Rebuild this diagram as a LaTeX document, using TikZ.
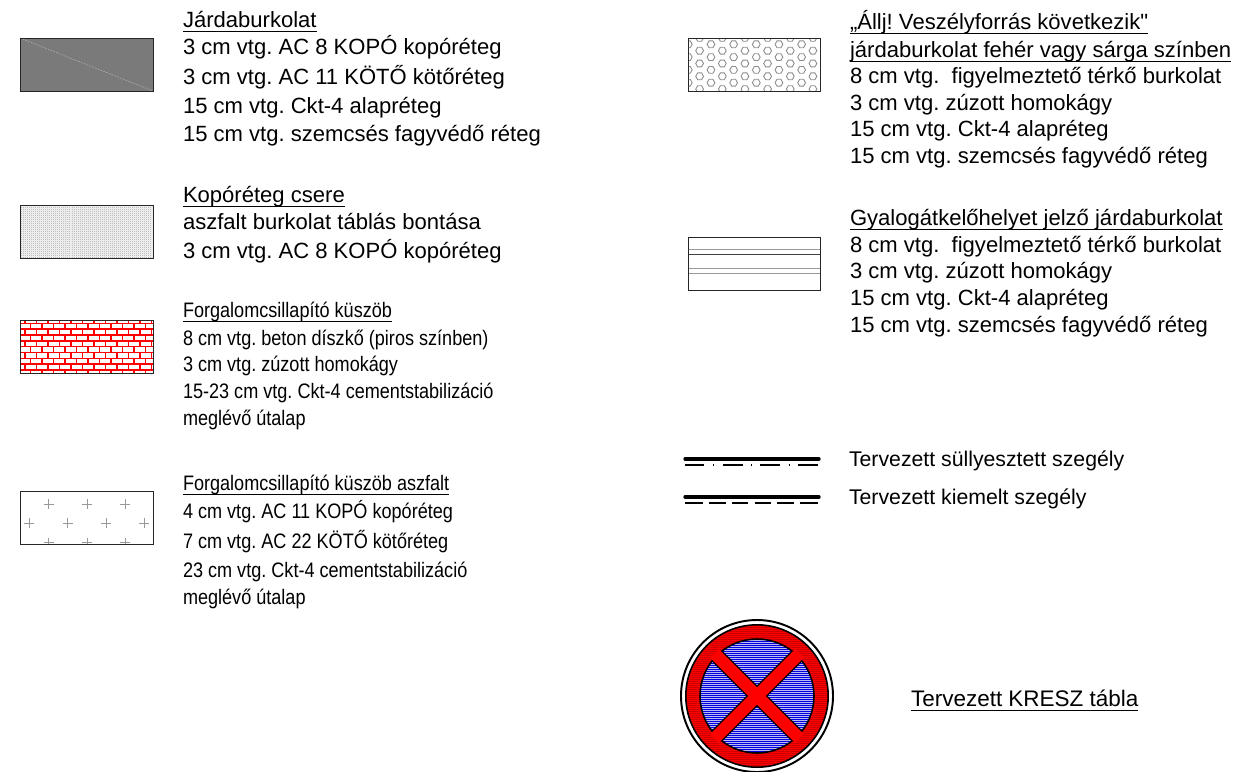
\documentclass[tikz,border=0pt]{standalone}
\usepackage{graphicx}
\usepackage{fontspec}
\setmainfont{Liberation Sans}
\newfontfamily\plainf{Liberation Sans}
\frenchspacing
\definecolor{brick}{RGB}{255,0,0}
\definecolor{signblue}{RGB}{0,0,225}
\definecolor{signbase}{RGB}{185,185,240}
\tikzset{
  x=0.02cm,y=-0.02cm,
  lab/.style={anchor=base west,inner sep=0pt,outer sep=0pt,font=\fontsize{12.55}{15}\selectfont\frenchspacing},
  ul/.style={line width=0.65pt,black},
  frame/.style={draw=black!85,line width=0.5pt},
  heavy/.style={line width=1.9pt,line cap=round,black},
  thinkerb/.style={black,line width=0.65pt},
}
\newcommand{\ulnode}[1]{\draw[ul] ([yshift=-0.085cm]#1.base west) -- ([yshift=-0.085cm]#1.base east);}
\newcommand{\nar}[1]{\scalebox{0.82}[0.95]{#1}}
\begin{document}
\begin{tikzpicture}
\useasboundingbox (0,0) rectangle (1240,771);
% --- Box 1 asphalt
\coordinate (b1a) at (20,38); \coordinate (b1b) at (153,91);
\fill[black!52] (b1a) rectangle (b1b);
\draw[black!32,dash pattern=on 1pt off 0.7pt,line width=0.35pt] (b1a) -- (b1b);
\draw[frame] (b1a) rectangle (b1b);
% --- Box 2 dotted
\coordinate (b2a) at (20,205); \coordinate (b2b) at (153,258);
\fill[black!7] (b2a) rectangle (b2b);
\foreach \y in {207,209,...,257}{
  \draw[black!25,dash pattern=on 0.55pt off 0.6pt,line width=0.3pt] (21,\y) -- (152,\y);
}
\draw[frame] (b2a) rectangle (b2b);
% --- Box 3 bricks
\coordinate (b3a) at (20,320); \coordinate (b3b) at (153,373);
\begin{scope}
\clip (b3a) rectangle (b3b);
\foreach \i in {0,...,9}{
  \pgfmathsetmacro{\yy}{317.5+5.83*\i}
  \pgfmathsetmacro{\yz}{\yy+5.83}
  \draw[brick,line width=0.8pt] (20,\yz) -- (153,\yz);
  \pgfmathsetmacro{\off}{mod(\i,2)==0 ? 25 : 30.7}
  \foreach \k in {-1,...,11}{
    \pgfmathsetmacro{\xx}{\off+11.5*\k}
    \draw[brick,line width=0.8pt] (\xx,\yy) -- (\xx,\yz);
  }
}
\end{scope}
\draw[frame] (b3a) rectangle (b3b);
% --- Box 4 crosses
\coordinate (b4a) at (20,491); \coordinate (b4b) at (153,544);
\begin{scope}
\clip (b4a) rectangle (b4b);
\foreach \x/\y in {48.7/504,87/504,125.3/504,29.3/523.3,67.7/523.3,106/523.3,144.3/523.3,48.7/542.5,87/542.5,125.3/542.5}{
  \draw[black!40,line width=0.4pt] (\x-5,\y) -- (\x+5,\y) (\x,\y-5) -- (\x,\y+5);
}
\end{scope}
\draw[frame] (b4a) rectangle (b4b);
% --- Box 5 hexagons
\coordinate (b5a) at (688,38); \coordinate (b5b) at (820,91);
\begin{scope}
\clip (b5a) rectangle (b5b);
\foreach \c in {0,...,11}{
  \pgfmathsetmacro{\xc}{688.3+11.33*\c}
  \pgfmathsetmacro{\ys}{mod(\c,2)==0 ? 31.5 : 37.9}
  \foreach \r in {0,...,5}{
    \pgfmathsetmacro{\yc}{\ys+12.8*\r}
    \draw[black!45,line width=0.5pt] (\xc+3.9,\yc) -- (\xc+1.95,\yc+3.4) -- (\xc-1.95,\yc+3.4) -- (\xc-3.9,\yc) -- (\xc-1.95,\yc-3.4) -- (\xc+1.95,\yc-3.4) -- cycle;
  }
}
\end{scope}
\draw[frame] (b5a) rectangle (b5b);
% --- Box 6 stripes
\coordinate (b6a) at (688,237); \coordinate (b6b) at (820,290);
\draw[black!40,line width=0.7pt] (688,249.7) -- (820,249.7) (688,268.7) -- (820,268.7) (688,273.7) -- (820,273.7);
\draw[black!75,line width=0.6pt] (688,254.3) -- (820,254.3);
\draw[frame] (b6a) rectangle (b6b);
% --- Kerb lines
\coordinate (k1a) at (685,459); \coordinate (k1b) at (819,459);
\coordinate (k2a) at (685,497); \coordinate (k2b) at (819,497);
\draw[heavy] (k1a) -- (k1b);
\draw[heavy] (k2a) -- (k2b);
\foreach \a/\b in {685/704.3,722.7/742.7,760.3/780.3,798.3/817.7,713/714.4,751/752.4,788.6/790}{
  \draw[thinkerb] (\a,465) -- (\b,465);
}
\foreach \a/\b in {685/702.7,709.3/725.7,732/748.3,754.7/771,777.3/793.7,800/817.7}{
  \draw[thinkerb] (\a,503) -- (\b,503);
}
% --- Sign
\coordinate (sc) at (757,696);
\draw[black,line width=1.1pt,fill=white] (sc) circle (76);
\fill[brick] (sc) circle (71.2);
\begin{scope}
\clip (sc) circle (71.2);
\foreach \i in {0,...,71}{
  \fill[red!80!black] (680,625+2*\i) rectangle (835,625.6+2*\i);
}
\end{scope}
\draw[black,line width=0.9pt] (sc) circle (71.2);
\begin{scope}
\clip (sc) circle (57);
\fill[signbase] (sc) circle (57);
\foreach \i in {0,...,57}{
  \fill[signblue] (690,639+2*\i) rectangle (825,639.7+2*\i);
}
\draw[black,line width=8.6pt] ([shift={(-60,-60)}]sc) -- ([shift={(60,60)}]sc);
\draw[black,line width=8.6pt] ([shift={(-60,60)}]sc) -- ([shift={(60,-60)}]sc);
\end{scope}
\draw[black,line width=0.9pt] (sc) circle (57);
\draw[brick,line width=6.9pt] ([shift={(-42.5,-42.5)}]sc) -- ([shift={(42.5,42.5)}]sc);
\draw[brick,line width=6.9pt] ([shift={(-42.5,42.5)}]sc) -- ([shift={(42.5,-42.5)}]sc);
% --- Text left
\node[lab] (t1) at (183,27) {Járdaburkolat}; \ulnode{t1}
\node[lab] (t1a) at (183,54) {3 cm vtg. AC 8 KOPÓ kopóréteg};
\node[lab] (t1b) at (183,84) {3 cm vtg. AC 11 KÖTŐ kötőréteg};
\node[lab] (t1c) at (183,113) {15 cm vtg. Ckt-4 alapréteg};
\node[lab] (t1d) at (183,141) {15 cm vtg. szemcsés fagyvédő réteg};
\node[lab] (t2) at (183,202) {Kopóréteg csere}; \ulnode{t2}
\node[lab] (t2a) at (183,229) {aszfalt burkolat táblás bontása};
\node[lab] (t2b) at (183,258) {3 cm vtg. AC 8 KOPÓ kopóréteg};
\node[lab] (t3) at (183,317) {\nar{Forgalomcsillapító küszöb}}; \ulnode{t3}
\node[lab] (t3a) at (183,345) {\nar{8 cm vtg. beton díszkő (piros színben)}};
\node[lab] (t3b) at (183,371.5) {\nar{3 cm vtg. zúzott homokágy}};
\node[lab] (t3c) at (183,398.5) {\nar{15-23 cm vtg. Ckt-4 cementstabilizáció}};
\node[lab] (t3d) at (183,425) {\nar{meglévő útalap}};
\node[lab] (t4) at (183,490) {\nar{Forgalomcsillapító küszöb aszfalt}}; \ulnode{t4}
\node[lab] (t4a) at (183,518) {\nar{4 cm vtg. AC 11 KOPÓ kopóréteg}};
\node[lab] (t4b) at (183,548) {\nar{7 cm vtg. AC 22 KÖTŐ kötőréteg}};
\node[lab] (t4c) at (183,577) {\nar{23 cm vtg. Ckt-4 cementstabilizáció}};
\node[lab] (t4d) at (183,604) {\nar{meglévő útalap}};
% --- Text right
\node[lab] (r1) at (850,29) {„Állj! Veszélyforrás következik{\plainf"}}; \ulnode{r1}
\node[lab] (r1x) at (850,57) {járdaburkolat fehér vagy sárga színben}; \ulnode{r1x}
\node[lab] (r1a) at (850,83) {8 cm vtg.\ \ figyelmeztető térkő burkolat};
\node[lab] (r1b) at (850,110) {3 cm vtg. zúzott homokágy};
\node[lab] (r1c) at (850,136) {15 cm vtg. Ckt-4 alapréteg};
\node[lab] (r1d) at (850,163) {15 cm vtg. szemcsés fagyvédő réteg};
\node[lab] (r2) at (850,225) {Gyalogátkelőhelyet jelző járdaburkolat}; \ulnode{r2}
\node[lab] (r2a) at (850,252) {8 cm vtg.\ \ figyelmeztető térkő burkolat};
\node[lab] (r2b) at (850,278) {3 cm vtg. zúzott homokágy};
\node[lab] (r2c) at (850,305) {15 cm vtg. Ckt-4 alapréteg};
\node[lab] (r2d) at (850,332) {15 cm vtg. szemcsés fagyvédő réteg};
\node[lab,font=\fontsize{12.1}{15}\selectfont] (k1) at (849,466) {Tervezett süllyesztett szegély};
\node[lab,font=\fontsize{12.1}{15}\selectfont] (k2) at (849,504) {Tervezett kiemelt szegély};
\node[lab,font=\fontsize{12.8}{15}\selectfont] (s1) at (911,706) {Tervezett KRESZ tábla}; \ulnode{s1}
\end{tikzpicture}
\end{document}
